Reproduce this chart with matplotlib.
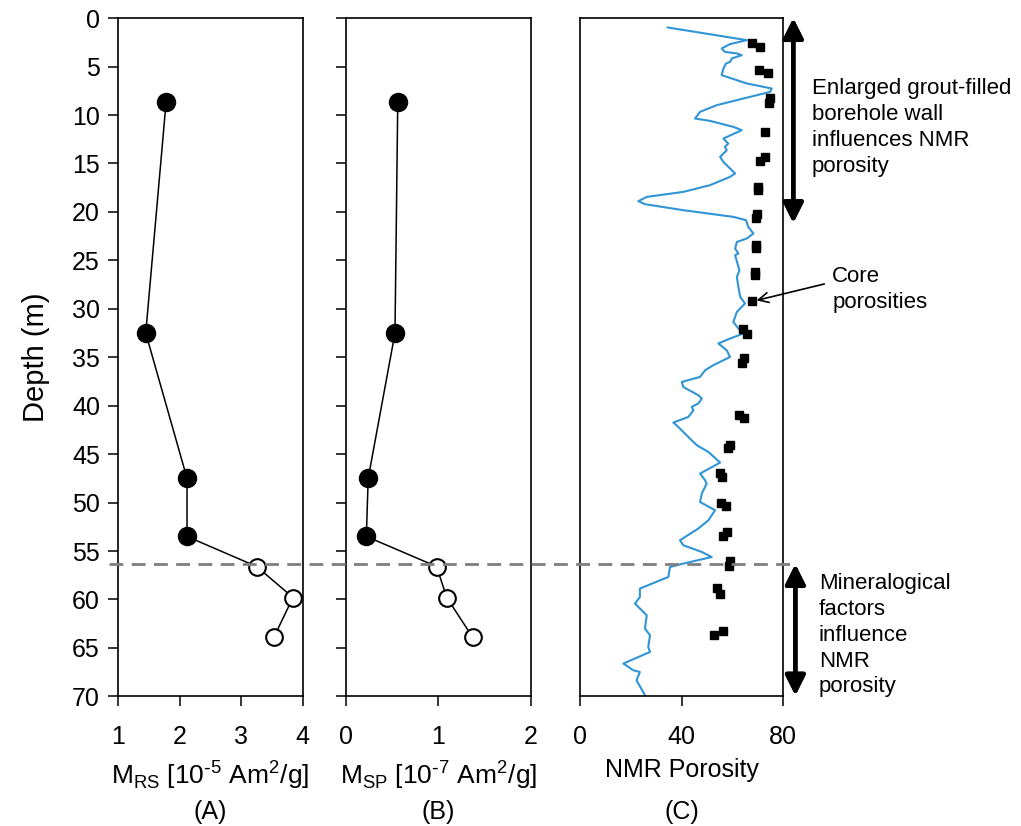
import matplotlib.pyplot as plt
import matplotlib.transforms as mtransforms
from matplotlib.lines import Line2D

plt.rcParams['font.family'] = ['Liberation Sans', 'DejaVu Sans']

# panel A: remanent magnetisation M_RS [1e-5 Am2/g]
mrs_depth_fill = [8.7, 32.5, 47.5, 53.5]
mrs_fill = [1.78, 1.45, 2.12, 2.12]
mrs_depth_open = [56.6, 59.8, 63.9]
mrs_open = [3.25, 3.84, 3.53]

# panel B: M_SP [1e-7 Am2/g]
msp_depth_fill = [8.7, 32.5, 47.5, 53.5]
msp_fill = [0.56, 0.53, 0.24, 0.22]
msp_depth_open = [56.6, 59.8, 63.9]
msp_open = [0.98, 1.09, 1.37]

boundary_depth = 56.3

# panel C: NMR log
nmr_depth = [0.96, 2.27, 2.68, 3.13, 3.48, 3.64, 3.82, 4.16, 4.51, 4.68, 5.19, 5.88,
             6.74, 7.26, 7.61, 8.29, 8.98, 9.67, 10.36, 10.6, 11.22, 11.56, 12.42,
             12.6, 12.94, 13.29, 13.63, 14.32, 14.84, 16.03, 16.38, 17.24, 17.93,
             18.45, 18.89, 19.2, 19.82, 20.51, 20.85, 21.55, 22.23, 22.74, 23.1,
             23.78, 24.29, 24.47, 26.02, 26.71, 27.74, 28.77, 29.45, 30.32, 31.35,
             32.04, 32.55, 33.07, 33.58, 34.28, 34.97, 35.48, 35.82, 36.34, 37.03,
             37.55, 38.07, 38.92, 39.26, 39.78, 40.13, 40.47, 41.16, 41.74, 42.19,
             43.05, 44.08, 44.78, 45.87, 47.01, 47.7, 48.04, 49.07, 49.94, 50.79,
             51.83, 52.68, 53.89, 54.41, 55.1, 55.62, 56.3, 56.65, 57.68, 58.88,
             59.75, 60.43, 61.64, 63.01, 63.7, 64.91, 65.42, 66.62, 67.31, 67.49,
             68.35, 69.89]
nmr_poro = [34.6, 65.7, 59.1, 55.8, 57.1, 61.8, 63.7, 59.8, 59.1, 57.5, 56.5, 55.8,
            65.7, 75.5, 74.9, 64.4, 53.9, 47.3, 45.3, 51.2, 60.4, 63.7, 56.5,
            57.1, 58.4, 57.1, 57.8, 55.2, 56.5, 61.1, 59.1, 51.2, 40.7,
            26.3, 23.0, 25.6, 40.7, 60.4, 65.4, 66.3, 68.3, 65.7, 61.8,
            61.1, 62.4, 61.1, 62.8, 61.8, 62.4, 63.1, 65.0, 61.8, 60.4,
            62.4, 64.4, 59.1, 54.5, 57.8, 59.1, 55.2, 52.5, 49.3, 47.3,
            40.1, 40.7, 46.6, 48.0, 46.6, 44.0, 44.7, 42.7, 36.8, 38.7,
            42.0, 46.0, 50.6, 55.2, 47.3, 49.3, 49.9, 48.0, 47.3, 53.2,
            50.6, 46.6, 39.4, 40.7, 48.0, 51.9, 40.7, 35.5, 34.8, 23.6,
            23.6, 21.7, 26.3, 25.6, 27.6, 26.9, 27.6, 17.1, 21.0, 23.6,
            22.3, 25.6]

core_depth = [2.6, 3.0, 5.4, 5.7, 8.2, 8.8, 11.8, 14.3, 14.7, 17.4, 17.7, 20.2, 20.6,
              23.4, 23.7, 26.2, 26.5, 29.2, 32.1, 32.6, 35.1, 35.6, 41.0, 41.3, 44.1, 44.4,
              47.0, 47.4, 50.0, 50.4, 53.0, 53.4, 56.0, 56.5, 58.8, 59.4, 63.3, 63.7]
core_poro = [67.7, 70.9, 70.5, 74.0, 74.8, 74.5, 72.9, 72.9, 70.9, 70.1, 70.1, 69.7, 69.3,
             69.3, 69.3, 68.9, 68.9, 67.7, 64.2, 65.7, 64.6, 63.8, 62.6, 64.6, 59.0, 58.2,
             55.0, 55.8, 55.4, 57.4, 57.8, 56.2, 59.0, 58.6, 53.9, 55.0, 56.2, 52.7]

FS = 18

fig = plt.figure(figsize=(10.21, 8.26), dpi=100)
axA = fig.add_axes([0.1156, 0.157, 0.181, 0.821])
axB = fig.add_axes([0.3389, 0.157, 0.181, 0.821])
axC = fig.add_axes([0.568, 0.157, 0.199, 0.821])


def mag_panel(ax, xf, yf, xo, yo):
    ax.plot(list(xf) + list(xo), list(yf) + list(yo), color='black', lw=1.1, zorder=2)
    ax.plot(xf, yf, 'o', color='black', ms=13, zorder=3)
    ax.plot(xo, yo, 'o', mfc='white', mec='black', mew=1.5, ms=12, zorder=3)


mag_panel(axA, mrs_fill, mrs_depth_fill, mrs_open, mrs_depth_open)
mag_panel(axB, msp_fill, msp_depth_fill, msp_open, msp_depth_open)

axC.plot(nmr_poro, nmr_depth, color='#2f95d6', lw=1.5)
axC.plot(core_poro, core_depth, 's', color='black', ms=5.8)

for ax in (axA, axB, axC):
    ax.set_ylim(70, 0)
    for s in ax.spines.values():
        s.set_linewidth(1.2)
    ax.tick_params(direction='out', length=7, width=1.1, labelsize=FS)
    ax.tick_params(axis='x', pad=14)
    ax.tick_params(axis='y', pad=6)

axA.set_xlim(1, 4)
axA.set_xticks([1, 2, 3, 4])
axA.set_yticks(range(0, 75, 5))
axA.set_ylabel('Depth (m)', fontsize=21, labelpad=16)

axB.set_xlim(0, 2)
axB.set_xticks([0, 1, 2])
axB.set_yticks(range(0, 75, 5))
axB.set_yticklabels([])

axC.set_xlim(0, 80)
axC.set_xticks([0, 40, 80])
axC.set_yticks([])

axA.set_xlabel(r'M$_{\mathregular{RS}}$ [10$^{\mathregular{\text{-}5}}$ Am$^{\mathregular{2}}$/g]',
               fontsize=19, labelpad=6)
axB.set_xlabel(r'M$_{\mathregular{SP}}$ [10$^{\mathregular{\text{-}7}}$ Am$^{\mathregular{2}}$/g]',
               fontsize=19, labelpad=6)
axC.set_xlabel('NMR Porosity', fontsize=FS, labelpad=6)

for lab, xc in [('(A)', 0.2056), ('(B)', 0.4295), ('(C)', 0.6675)]:
    fig.text(xc, 0.003, lab, fontsize=FS, ha='center', va='bottom')

# dashed boundary across all panels
trans = mtransforms.blended_transform_factory(fig.transFigure, axA.transData)
fig.add_artist(Line2D([0.107, 0.775], [boundary_depth, boundary_depth], transform=trans,
                      color='#7f7f7f', lw=2, ls=(0, (5, 3)), zorder=5))

# annotations on the right
arrow_kw = dict(arrowstyle='<|-|>', color='black', lw=3.2, mutation_scale=30,
                shrinkA=0, shrinkB=0)
fig.add_artist(plt.annotate('', xy=(0.777, 0.978), xytext=(0.777, 0.73),
                            xycoords='figure fraction', arrowprops=arrow_kw))
fig.add_artist(plt.annotate('', xy=(0.779, 0.317), xytext=(0.779, 0.158),
                            xycoords='figure fraction', arrowprops=arrow_kw))
fig.text(0.795, 0.906, 'Enlarged grout-filled\nborehole wall\ninfluences NMR\nporosity',
         fontsize=16, ha='left', va='top', linespacing=1.32)
fig.text(0.815, 0.65, 'Core\nporosities', fontsize=16, ha='left', va='center',
         linespacing=1.32)
axC.annotate('', xy=(68.5, 29.2), xytext=(0.81, 0.657), textcoords='figure fraction',
             arrowprops=dict(arrowstyle='->', color='black', lw=1.2, mutation_scale=18))
fig.text(0.802, 0.306, 'Mineralogical\nfactors\ninfluence\nNMR\nporosity',
         fontsize=16, ha='left', va='top', linespacing=1.3)

fig.savefig('out.png', dpi=100)
